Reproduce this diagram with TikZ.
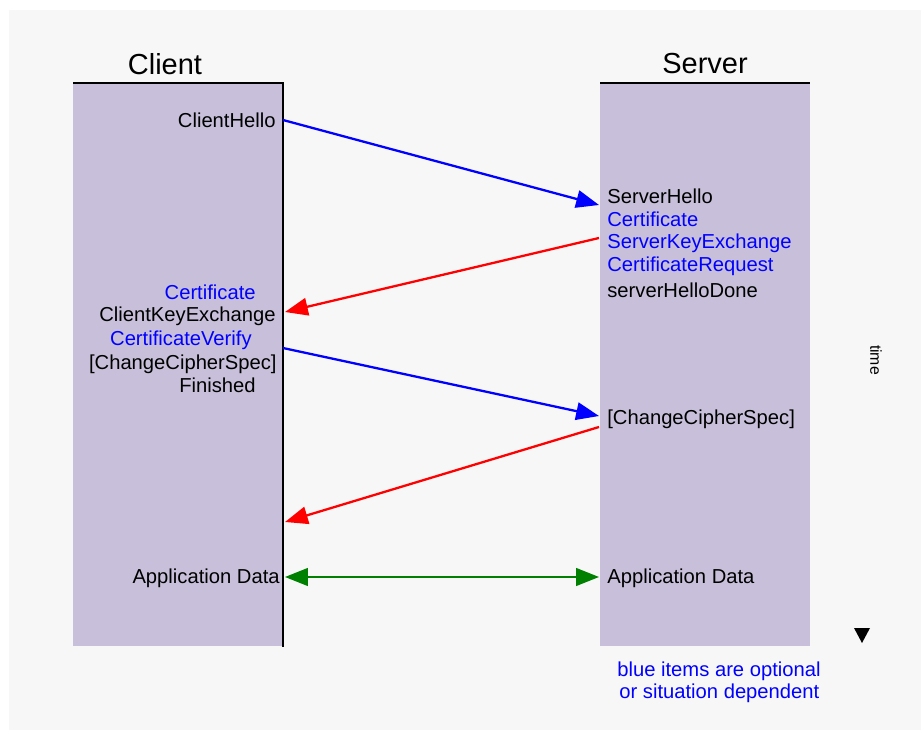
\documentclass[tikz,border=0pt]{standalone}
\usepackage{fontspec}
\setmainfont{Liberation Sans}
\usetikzlibrary{arrows.meta}
\definecolor{lav}{HTML}{C8C0DA}
\definecolor{panel}{HTML}{F7F7F7}
\definecolor{bl}{HTML}{0000FF}
\definecolor{rd}{HTML}{FF0000}
\definecolor{gr}{HTML}{008000}
\tikzset{
  ctext/.style={anchor=east, inner sep=0pt, font=\fontsize{11.5pt}{12pt}\selectfont},
  stext/.style={anchor=west, inner sep=0pt, font=\fontsize{11.5pt}{12pt}\selectfont},
  title/.style={inner sep=0pt, font=\fontsize{16.5pt}{18pt}\selectfont},
  tip/.style={Triangle[length=13pt,width=10pt]},
  msg/.style={line width=1.3pt, -{Triangle[length=13pt,width=10pt]}},
}
\begin{document}
\begin{tikzpicture}[x=0.02cm,y=-0.02cm]
\useasboundingbox (0,0) rectangle (921,730);
\fill[white] (0,0) rectangle (921,730);
\fill[panel] (9,10) rectangle (921,730);
% boxes
\fill[lav] (73,83) rectangle (283,646);
\fill[lav] (600,83) rectangle (810,646);
\draw[line width=1.2pt] (73,83) -- (283,83) -- (283,647);
\draw[line width=1.2pt] (600,83) -- (810,83);
% titles
\node[title] (client) at (165,64) {Client};
\node[title] (server) at (705,64) {Server};
% client texts
\node[ctext] (ch) at (276,120) {ClientHello};
\node[ctext, text=bl] (ccert) at (256,292) {Certificate};
\node[ctext] (cke) at (276,316) {ClientKeyExchange};
\node[ctext, text=bl] (cv) at (252,340) {CertificateVerify};
\node[ctext] (ccs) at (277,364) {[ChangeCipherSpec]};
\node[ctext] (cfin) at (256,385) {Finished};
\node[ctext] (cad) at (280,578) {Application Data};
% server texts
\node[stext] (sh) at (607,196) {ServerHello};
\node[stext, text=bl] (scert) at (607,219) {Certificate};
\node[stext, text=bl] (ske) at (607,243) {ServerKeyExchange};
\node[stext, text=bl] (scr) at (607,266) {CertificateRequest};
\node[stext] (shd) at (607,290) {serverHelloDone};
\node[stext] (sccs) at (607,419) {[ChangeCipherSpec]};
\node[stext] (sad) at (607,578) {Application Data};
% connector end points
\coordinate (a1s) at (283,120);
\coordinate (a1e) at (599,205);
\coordinate (a2s) at (599,238);
\coordinate (a2e) at (285,312);
\coordinate (a3s) at (283,348);
\coordinate (a3e) at (599,416);
\coordinate (a4s) at (599,427);
\coordinate (a4e) at (285,522);
\coordinate (a5s) at (285,577);
\coordinate (a5e) at (599,577);
\draw[msg, draw=bl, fill=bl] (a1s) -- (a1e);
\draw[msg, draw=rd, fill=rd] (a2s) -- (a2e);
\draw[msg, draw=bl, fill=bl] (a3s) -- (a3e);
\draw[msg, draw=rd, fill=rd] (a4s) -- (a4e);
\draw[line width=1.3pt, draw=gr, fill=gr, {Triangle[length=13pt,width=10pt]}-{Triangle[length=13pt,width=10pt]}] (a5s) -- (a5e);
% legend
\node[stext, text=bl] (n1) at (617,671) {blue items are optional};
\node[stext, text=bl] (n2) at (619,693) {or situation dependent};
% time
\node[inner sep=0pt, rotate=-90, font=\fontsize{9pt}{10pt}\selectfont] (time) at (876,360) {time};
\fill (854,628) -- (870,628) -- (862,643) -- cycle;
\end{tikzpicture}
\end{document}
